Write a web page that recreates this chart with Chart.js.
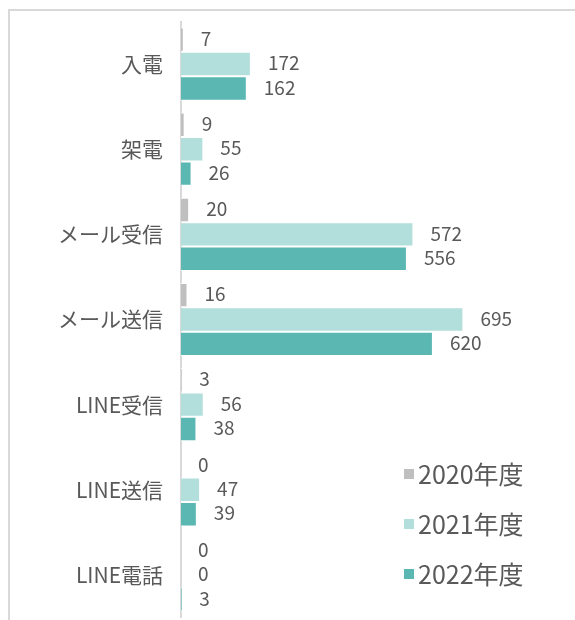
<!DOCTYPE html>
<html>
<head>
<meta charset="utf-8">
<script src="https://cdn.jsdelivr.net/npm/chart.js@4"></script>
<style>
  html, body { margin: 0; padding: 0; background: #fff; }
  #wrap { position: relative; width: 575px; height: 620px; overflow: hidden; }
  #frame { position: absolute; left: 8px; top: 9px; width: 600px; height: 640px; border-left: 2px solid #d9d9d9; border-top: 2px solid #d9d9d9; }
  #myChart { position: absolute; left: 0; top: 0; }
</style>
</head>
<body>
<div id="wrap">
  <div id="frame"></div>
  <canvas id="myChart" width="575" height="620"></canvas>
</div>
<script>
const categories = ['入電', '架電', 'メール受信', 'メール送信', 'LINE受信', 'LINE送信', 'LINE電話'];
const seriesNames = ['2020年度', '2021年度', '2022年度'];
const values2020 = [7, 9, 20, 16, 3, 0, 0];
const values2021 = [172, 55, 572, 695, 56, 47, 0];
const values2022 = [162, 26, 556, 620, 38, 39, 3];
const colors = ['#bfbfbf', '#b2dfdb', '#5ab7b2'];

const fontFamily = '"Noto Sans CJK JP", "Noto Sans", sans-serif';
const textColor = '#595959';

// value labels at the end of each bar + legend inside the plot
const labelPlugin = {
    id: 'barLabels',
    afterDatasetsDraw(chart) {
        const ctx = chart.ctx;
        ctx.save();
        ctx.font = '19px ' + fontFamily;
        ctx.fillStyle = textColor;
        ctx.textAlign = 'left';
        ctx.textBaseline = 'middle';
        chart.data.datasets.forEach(function (ds, i) {
            const meta = chart.getDatasetMeta(i);
            meta.data.forEach(function (bar, j) {
                ctx.fillText(String(ds.data[j]), bar.x + 17, bar.y - 1);
            });
        });
        ctx.restore();
    },
    afterDraw(chart) {
        const ctx = chart.ctx;
        ctx.save();
        ctx.font = '25px ' + fontFamily;
        ctx.textBaseline = 'middle';
        chart.data.datasets.forEach(function (ds, i) {
            const y = 474 + i * 50;
            ctx.fillStyle = ds.backgroundColor;
            ctx.fillRect(404, y - 5, 10, 10);
            ctx.fillStyle = textColor;
            ctx.fillText(ds.label, 418, y);
        });
        ctx.restore();
    }
};

const data = {
    labels: categories,
    datasets: [values2020, values2021, values2022].map(function (vals, i) {
        return {
            label: seriesNames[i],
            data: vals,
            backgroundColor: colors[i],
            borderColor: '#ffffff',
            borderWidth: { top: 1, bottom: 1, right: 1, left: 0 },
            categoryPercentage: 0.86,
            barPercentage: 1
        };
    })
};

new Chart(document.getElementById('myChart'), {
    type: 'bar',
    data: data,
    plugins: [labelPlugin],
    options: {
        indexAxis: 'y',
        responsive: false,
        animation: false,
        devicePixelRatio: 1,
        layout: { padding: { top: 21.5, bottom: 2.5, left: 10, right: 8 } },
        plugins: {
            legend: { display: false },
            tooltip: { enabled: false }
        },
        scales: {
            x: { display: false, min: 0, max: 950 },
            y: {
                grid: { display: false, drawTicks: false },
                border: { display: true, color: '#d9d9d9', width: 2 },
                ticks: { color: textColor, padding: 18, font: { family: fontFamily, size: 21 } },
                afterFit: function (scale) {
                    scale.width = 171;
                    scale.paddingTop = 0;
                    scale.paddingBottom = 0;
                }
            }
        }
    }
});
</script>
</body>
</html>
